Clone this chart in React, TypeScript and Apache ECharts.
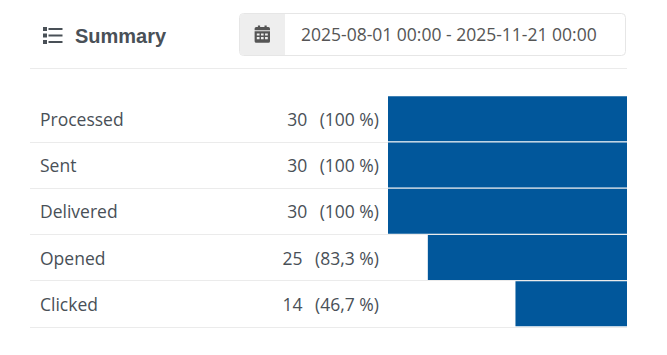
import React, { useEffect, useRef } from "react";
import * as echarts from "echarts";

const categories = ["Processed", "Sent", "Delivered", "Opened", "Clicked"];
const counts = [30, 30, 30, 25, 14];
const percents = ["100 %", "100 %", "100 %", "83,3 %", "46,7 %"];
const maxCount = 30;
const titleText = "Summary";
const dateRange = "2025-08-01 00:00 - 2025-11-21 00:00";

const BLUE = "#01579b";
const TEXT = "#495057";
const LINE = "#ebebeb";
const FONT = "'Open Sans', sans-serif";

const calendarPath =
  "M1 6h14v9.5a1.5 1.5 0 0 1-1.5 1.5h-11A1.5 1.5 0 0 1 1 15.5zM2.5 2H4V0.5h2V2h4V0.5h2V2h1.5A1.5 1.5 0 0 1 15 3.5V5H1V3.5A1.5 1.5 0 0 1 2.5 2zM3 8v2h2.5V8zM6.8 8v2h2.4V8zM10.5 8v2H13V8zM3 11.5v2h2.5v-2zM6.8 11.5v2h2.4v-2zM10.5 11.5v2H13v-2z";
echarts.graphic.registerShape("calendarIcon", echarts.graphic.extendPath(calendarPath as any, {}) as any);

export default function App() {
  const ref = useRef<HTMLDivElement>(null);
  useEffect(() => {
    const chart = echarts.init(ref.current!, null, { renderer: "svg" });
    const listRows = [27, 33.5, 40];
    chart.setOption({
      animation: false,
      backgroundColor: "#ffffff",
      textStyle: { fontFamily: FONT },
      grid: [
        { left: 30, width: 597, top: 95.5, height: 231.5 },
        { left: 388, width: 239, top: 95.5, height: 231.5 },
      ],
      xAxis: [
        { type: "value", gridIndex: 0, show: false, min: 0, max: maxCount },
        { type: "value", gridIndex: 1, show: false, min: 0, max: maxCount, inverse: true },
      ],
      yAxis: [
        {
          type: "category",
          gridIndex: 0,
          inverse: true,
          data: categories,
          axisLine: { show: false },
          axisTick: { show: false },
          splitLine: { show: true, showMinLine: false, lineStyle: { color: LINE, width: 1 } },
          axisLabel: {
            inside: true,
            margin: 10,
            color: TEXT,
            fontFamily: FONT,
            fontSize: 17.5,
          },
        },
        {
          type: "category",
          gridIndex: 1,
          inverse: true,
          position: "left",
          data: categories,
          axisLine: { show: false },
          axisTick: { show: false },
          axisLabel: {
            margin: 9,
            color: TEXT,
            fontFamily: FONT,
            fontSize: 17.5,
            formatter: (_: string, i: number) => `{c|${counts[i]}}{p|(${percents[i]})}`,
            rich: {
              c: { color: TEXT, fontFamily: FONT, fontSize: 17.5, padding: [0, 12.5, 0, 0] },
              p: { color: TEXT, fontFamily: FONT, fontSize: 17.5 },
            },
          },
        },
      ],
      series: [
        {
          type: "bar",
          xAxisIndex: 1,
          yAxisIndex: 1,
          data: counts,
          barWidth: 45,
          itemStyle: { color: BLUE },
          z: 3,
        },
      ],
      graphic: [
        ...listRows.map((y) => ({
          type: "rect",
          shape: { x: 43, y: y, width: 4, height: 4 },
          style: { fill: TEXT },
        })),
        ...listRows.map((y) => ({
          type: "rect",
          shape: { x: 48.5, y: y + 1, width: 14, height: 2 },
          style: { fill: TEXT },
        })),
        {
          type: "text",
          x: 75,
          y: 25.5,
          style: {
            text: titleText,
            fill: TEXT,
            font: "bold 20px 'Liberation Sans', sans-serif",
          },
        },
        {
          type: "rect",
          shape: { x: 239.5, y: 13.5, width: 386, height: 42, r: 4 },
          style: { fill: "#ffffff", stroke: "#e6e6e6", lineWidth: 1 },
        },
        {
          type: "rect",
          shape: { x: 240, y: 14, width: 45, height: 41, r: [4, 0, 0, 4] },
          style: { fill: "#eeeeee" },
        },
        {
          type: "calendarIcon",
          x: 253.5,
          y: 25,
          scaleX: 1.1,
          scaleY: 1.05,
          style: { fill: "#555555" },
        },
        {
          type: "text",
          x: 301,
          y: 24.5,
          style: { text: dateRange, fill: "#555555", font: `17.5px ${FONT}` },
        },
        {
          type: "line",
          shape: { x1: 30, y1: 68.5, x2: 627, y2: 68.5 },
          style: { stroke: LINE, lineWidth: 1 },
        },
      ],
    });
    return () => chart.dispose();
  }, []);
  return (
    <div
      ref={ref}
      style={{ position: "fixed", left: 0, top: 0, width: 667, height: 355 }}
    />
  );
}
